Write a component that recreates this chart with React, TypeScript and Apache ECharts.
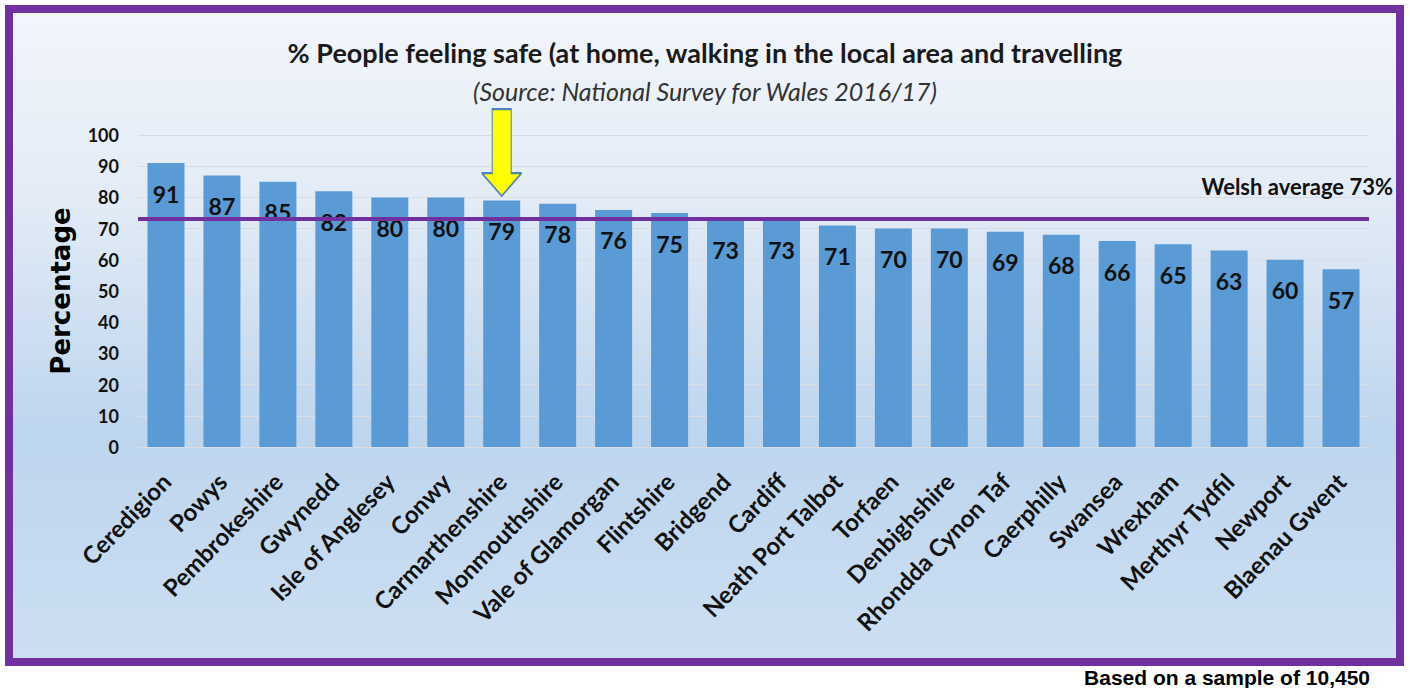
import React, { useEffect, useRef } from "react";
import * as echarts from "echarts";

const CATEGORIES = [
  "Ceredigion", "Powys", "Pembrokeshire", "Gwynedd", "Isle of Anglesey", "Conwy",
  "Carmarthenshire", "Monmouthshire", "Vale of Glamorgan", "Flintshire", "Bridgend",
  "Cardiff", "Neath Port Talbot", "Torfaen", "Denbighshire", "Rhondda Cynon Taf",
  "Caerphilly", "Swansea", "Wrexham", "Merthyr Tydfil", "Newport", "Blaenau Gwent",
];
const VALUES = [91, 87, 85, 82, 80, 80, 79, 78, 76, 75, 73, 73, 71, 70, 70, 69, 68, 66, 65, 63, 60, 57];
const WELSH_AVERAGE = 73;
const HIGHLIGHTED = "Carmarthenshire";

const TITLE = "% People feeling safe (at home, walking in the local area and travelling";
const SUBTITLE = "(Source: National Survey for Wales 2016/17)";
const Y_NAME = "Percentage";
const FOOTNOTE = "Based on a sample of 10,450";

const FONT = "Lato, 'Open Sans', sans-serif";
const ARROW = "path://M10.5,0 L29.5,0 L29.5,64 L40,64 L20,87 L0,64 L10.5,64 Z";

export default function App() {
  const ref = useRef<HTMLDivElement>(null);
  useEffect(() => {
    const chart = echarts.init(ref.current!, null, { renderer: "svg" });
    const highlightIndex = CATEGORIES.indexOf(HIGHLIGHTED);
    chart.setOption({
      animation: false,
      backgroundColor: "#ffffff",
      title: [
        {
          text: TITLE,
          left: "center",
          top: 34,
          textStyle: { fontFamily: FONT, fontSize: 27, fontWeight: "bold", color: "#1a1a1a" },
        },
        {
          text: SUBTITLE,
          left: "center",
          top: 73,
          textStyle: { fontFamily: FONT, fontSize: 25, fontStyle: "italic", fontWeight: "normal", color: "#333333" },
        },
      ],
      graphic: [
        {
          type: "rect",
          z: -10,
          silent: true,
          shape: { x: 9, y: 9, width: 1391, height: 653 },
          style: {
            fill: new echarts.graphic.LinearGradient(0, 0, 0, 1, [
              { offset: 0, color: "#f3f6fb" },
              { offset: 0.3, color: "#e2ebf6" },
              { offset: 0.65, color: "#bdd5ee" },
              { offset: 1, color: "#cddff2" },
            ]),
            stroke: "#7030a0",
            lineWidth: 8,
          },
        },
        {
          type: "text",
          right: 40,
          top: 667,
          style: {
            text: FOOTNOTE,
            font: "bold 21px 'Liberation Sans', Arial, sans-serif",
            fill: "#000000",
          },
        },
      ],
      grid: { left: 138, right: 41, top: 135, bottom: 241, containLabel: false },
      xAxis: {
        type: "category",
        data: CATEGORIES,
        axisLine: { show: false },
        axisTick: { show: false },
        axisLabel: {
          rotate: 46,
          interval: 0,
          margin: 30,
          fontFamily: FONT,
          fontSize: 24,
          fontWeight: "bold",
          color: "#111111",
        },
      },
      yAxis: {
        type: "value",
        min: 0,
        max: 100,
        interval: 10,
        name: Y_NAME,
        nameLocation: "middle",
        nameRotate: 90,
        nameGap: 64,
        nameTextStyle: { fontFamily: "'DejaVu Sans', sans-serif", fontSize: 26, fontWeight: "bold", color: "#000000" },
        axisLine: { show: false },
        axisTick: { show: false },
        axisLabel: { margin: 19, fontFamily: FONT, fontSize: 18, fontWeight: "bold", color: "#111111" },
        splitLine: { lineStyle: { color: "#d8dde3", width: 1 } },
      },
      series: [
        {
          type: "bar",
          data: VALUES,
          barWidth: 37,
          itemStyle: { color: "#5b9bd5" },
          label: {
            show: true,
            position: "insideTop",
            distance: 19,
            fontFamily: FONT,
            fontSize: 23,
            fontWeight: "bold",
            color: "#111111",
          },
          markLine: {
            silent: true,
            symbol: "none",
            lineStyle: { color: "#7030a0", width: 4, type: "solid" },
            label: {
              show: true,
              position: "insideEndTop",
              distance: [-24, 22],
              formatter: `Welsh average ${WELSH_AVERAGE}%`,
              fontFamily: FONT,
              fontSize: 22,
              fontWeight: "bold",
              color: "#111111",
            },
            data: [{ yAxis: WELSH_AVERAGE }],
          },
          markPoint: {
            silent: true,
            symbol: ARROW,
            symbolSize: [40, 87],
            symbolOffset: [0, -48],
            itemStyle: { color: "#ffff00", borderColor: "#4f81bd", borderWidth: 1.5 },
            label: { show: false },
            data: [{ coord: [HIGHLIGHTED, VALUES[highlightIndex]] }],
          },
        },
      ],
    });
    return () => chart.dispose();
  }, []);
  return (
    <div
      ref={ref}
      style={{ position: "fixed", left: 0, top: 0, width: 1410, height: 688, background: "#ffffff" }}
    />
  );
}
